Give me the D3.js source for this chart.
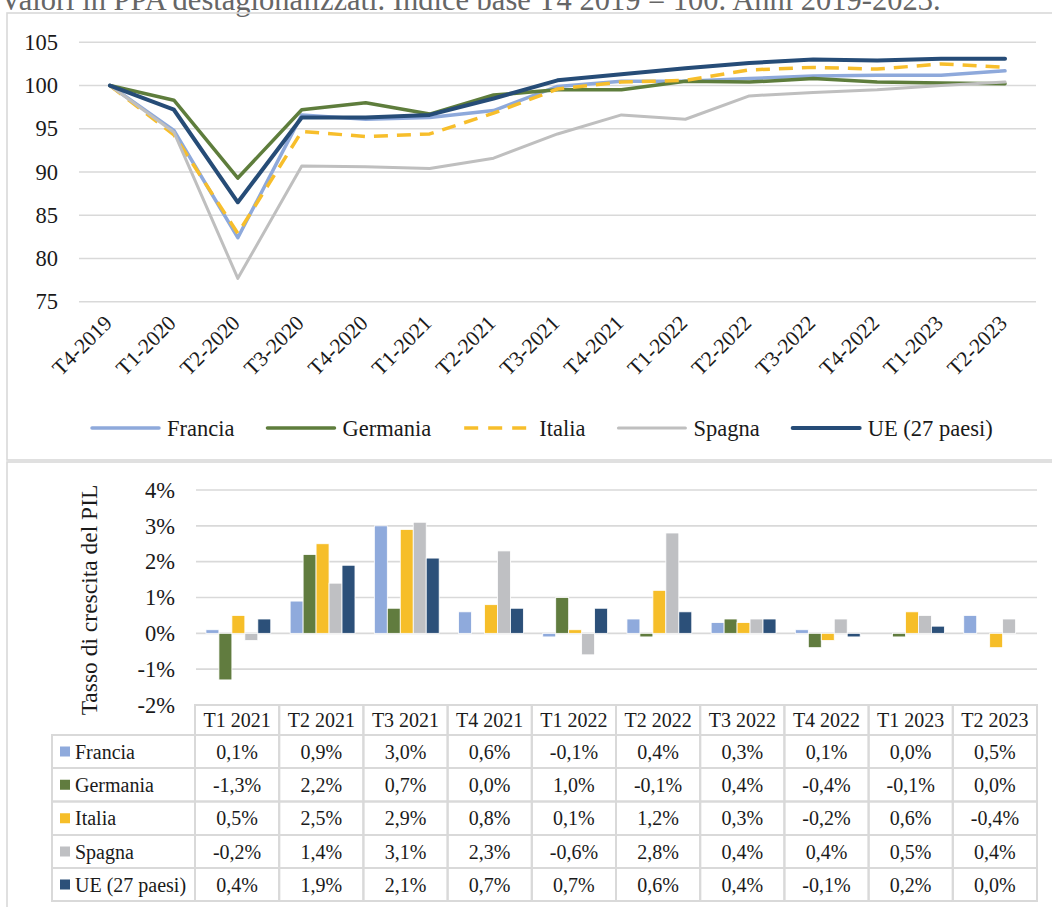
<!DOCTYPE html>
<html><head><meta charset="utf-8">
<script src="https://cdn.jsdelivr.net/npm/d3@7"></script>
<style>
html,body{margin:0;padding:0;background:#fff;overflow:hidden}
svg{display:block;font-family:"Liberation Serif","Times New Roman",serif}
</style></head>
<body>
<svg id="c" width="1052" height="907"></svg>
<script>
// ---------- data ----------
const titleText = "Valori in PPA destagionalizzati. Indice base T4 2019 = 100. Anni 2019-2023.";
const quarters = ["T4-2019","T1-2020","T2-2020","T3-2020","T4-2020","T1-2021","T2-2021","T3-2021","T4-2021","T1-2022","T2-2022","T3-2022","T4-2022","T1-2023","T2-2023"];
const seriesNames = ["Francia","Germania","Italia","Spagna","UE (27 paesi)"];
const francia  = [100, 94.8, 82.4, 96.6, 96.1, 96.3, 97.1, 99.9, 100.5, 100.5, 100.8, 101.1, 101.2, 101.2, 101.7];
const germania = [100, 98.3, 89.3, 97.2, 98.0, 96.7, 98.9, 99.5, 99.5, 100.5, 100.4, 100.8, 100.4, 100.3, 100.2];
const italia   = [100, 94.3, 82.9, 94.7, 94.1, 94.4, 96.8, 99.6, 100.4, 100.6, 101.8, 102.1, 101.9, 102.5, 102.1];
const spagna   = [100, 94.6, 77.7, 90.7, 90.6, 90.4, 91.6, 94.4, 96.6, 96.1, 98.8, 99.2, 99.5, 100.0, 100.4];
const ue       = [100, 97.2, 86.5, 96.3, 96.3, 96.6, 98.5, 100.6, 101.3, 102.0, 102.6, 103.0, 102.9, 103.1, 103.1];
const indexTicks = [75, 80, 85, 90, 95, 100, 105];

const growthQuarters = ["T1 2021","T2 2021","T3 2021","T4 2021","T1 2022","T2 2022","T3 2022","T4 2022","T1 2023","T2 2023"];
const franciaG  = [0.1, 0.9, 3.0, 0.6, -0.1, 0.4, 0.3, 0.1, 0.0, 0.5];
const germaniaG = [-1.3, 2.2, 0.7, 0.0, 1.0, -0.1, 0.4, -0.4, -0.1, 0.0];
const italiaG   = [0.5, 2.5, 2.9, 0.8, 0.1, 1.2, 0.3, -0.2, 0.6, -0.4];
const spagnaG   = [-0.2, 1.4, 3.1, 2.3, -0.6, 2.8, 0.4, 0.4, 0.5, 0.4];
const ueG       = [0.4, 1.9, 2.1, 0.7, 0.7, 0.6, 0.4, -0.1, 0.2, 0.0];
const growthTicks = [-2, -1, 0, 1, 2, 3, 4];
const growthAxisTitle = "Tasso di crescita del PIL";

// ---------- styles ----------
const lineColors = ["#8EA9DB", "#5E7D3C", "#F7BE2B", "#BFBFBF", "#264C77"];
const lineWidths = [3.5, 3.5, 3.5, 3, 4];
const barColors  = ["#8FAADC", "#617C3F", "#F6BE29", "#BFC0C3", "#2C5079"];
const gridColor = "#D9D9D9";
const textColor = "#1a1a1a";
const FONT = "22.5px";

const svg = d3.select("#c");

// title (partially cut off at top, as in the source)
svg.append("text").attr("x", 0).attr("y", 10)
  .attr("font-size", 30.5).attr("fill", "#666666").text(titleText);

// panel borders
svg.append("rect").attr("x", 7).attr("y", 13).attr("width", 1070).attr("height", 447)
  .attr("fill", "none").attr("stroke", gridColor).attr("stroke-width", 1.6);
svg.append("rect").attr("x", 7).attr("y", 462).attr("width", 1070).attr("height", 480)
  .attr("fill", "none").attr("stroke", gridColor).attr("stroke-width", 1.6);

// ================= TOP LINE CHART =================
const x1 = d3.scaleBand().domain(quarters).range([78, 1037]);
const y1 = d3.scaleLinear().domain([75, 105]).range([301.7, 42.3]);

const gTop = svg.append("g");
gTop.selectAll("line.grid").data(indexTicks).join("line")
  .attr("x1", 79).attr("x2", 1036)
  .attr("y1", d => y1(d)).attr("y2", d => y1(d))
  .attr("stroke", gridColor).attr("stroke-width", 1.6);

const yAx1 = d3.axisLeft(y1).tickValues(indexTicks).tickSize(0).tickPadding(0);
gTop.append("g").attr("transform", "translate(58,0)").call(yAx1)
  .call(g => g.select(".domain").remove())
  .selectAll("text").attr("font-size", FONT).attr("font-family", "Liberation Serif")
  .attr("fill", textColor);

// x labels rotated
const xAx1 = d3.axisBottom(x1).tickSize(0).tickPadding(0);
const gx1 = gTop.append("g").call(xAx1);
gx1.select(".domain").remove();
gx1.selectAll(".tick").attr("transform", d => `translate(${x1(d) + x1.bandwidth()/2 - 2},${319})`);
gx1.selectAll("text").attr("font-size", "21.5px").attr("font-family", "Liberation Serif")
  .attr("fill", textColor).attr("text-anchor", "end").attr("dy", "0.35em").attr("y", 0)
  .attr("transform", "rotate(-45)");

const lineData = [francia, germania, italia, spagna, ue];
const lineGen = d3.line().x((d, i) => x1(quarters[i]) + x1.bandwidth()/2).y(d => y1(d));
gTop.selectAll("path.series").data(lineData).join("path")
  .attr("class", "series")
  .attr("d", d => lineGen(d))
  .attr("fill", "none")
  .attr("stroke", (d, i) => lineColors[i])
  .attr("stroke-width", (d, i) => lineWidths[i])
  .attr("stroke-linejoin", "round")
  .attr("stroke-linecap", (d, i) => i === 2 ? "butt" : "round")
  .attr("stroke-dasharray", (d, i) => i === 2 ? "14,9" : null);

// legend
const legY = 428;
let lx = 92;
seriesNames.forEach((name, i) => {
  const g = svg.append("g");
  g.append("line").attr("x1", lx).attr("x2", lx + 67).attr("y1", legY).attr("y2", legY)
    .attr("stroke", lineColors[i]).attr("stroke-width", lineWidths[i])
    .attr("stroke-linecap", i === 2 ? "butt" : "round")
    .attr("stroke-dasharray", i === 2 ? "14,10" : null);
  const t = g.append("text").attr("x", lx + 75).attr("y", legY).attr("dy", "0.35em")
    .attr("font-size", FONT).attr("fill", textColor).text(name);
  const w = t.node().getComputedTextLength();
  lx = lx + 75 + w + 33;
});

// ================= BOTTOM BAR CHART =================
const x2 = d3.scaleBand().domain(growthQuarters).range([195, 1037]);
const y2 = d3.scaleLinear().domain([-2, 4]).range([705, 490]);
const gBot = svg.append("g");

gBot.selectAll("line.grid").data(growthTicks.filter(d => d > -2)).join("line")
  .attr("x1", 196).attr("x2", 1037)
  .attr("y1", d => y2(d)).attr("y2", d => y2(d))
  .attr("stroke", gridColor).attr("stroke-width", 1.6);

const yAx2 = d3.axisLeft(y2).tickValues(growthTicks).tickSize(0).tickPadding(0)
  .tickFormat(d => d + "%");
gBot.append("g").attr("transform", "translate(175,0)").call(yAx2)
  .call(g => g.select(".domain").remove())
  .selectAll("text").attr("font-size", FONT).attr("font-family", "Liberation Serif")
  .attr("fill", textColor);

svg.append("text").attr("transform", "translate(97,600) rotate(-90)")
  .attr("text-anchor", "middle").attr("font-size", "23.5px").attr("fill", textColor)
  .text(growthAxisTitle);

const growthData = [franciaG, germaniaG, italiaG, spagnaG, ueG];
const bw = x2.bandwidth();
const xs = d3.scaleBand().domain(seriesNames).range([bw * 0.13, bw * 0.9]);
growthData.forEach((vals, si) => {
  gBot.selectAll(null).data(vals).join("rect")
    .attr("x", (d, i) => x2(growthQuarters[i]) + xs(seriesNames[si]))
    .attr("width", xs.bandwidth())
    .attr("y", d => y2(Math.max(0, d)))
    .attr("height", d => Math.abs(y2(d) - y2(0)))
    .attr("fill", barColors[si])
    .attr("stroke", "#ffffff").attr("stroke-width", 0.8);
});

// ---------- data table ----------
const tbl = svg.append("g");
const headTop = 705, headBot = 735;
const rowY = [735, 768, 801.5, 835, 868, 901];
const labelLeft = 52;
const fmt = v => (v.toFixed(1).replace(".", ",")) + "%";
const bCol = gridColor;

growthQuarters.forEach(q => {
  tbl.append("rect").attr("x", x2(q)).attr("y", headTop).attr("width", bw).attr("height", headBot - headTop)
    .attr("fill", "none").attr("stroke", bCol).attr("stroke-width", 2);
  tbl.append("text").attr("x", x2(q) + bw/2).attr("y", (headTop + headBot)/2).attr("dy", "0.35em")
    .attr("text-anchor", "middle").attr("font-size", "20px").attr("fill", textColor).text(q);
});
seriesNames.forEach((name, si) => {
  const top = rowY[si], bot = rowY[si + 1], mid = (top + bot)/2;
  tbl.append("rect").attr("x", labelLeft).attr("y", top).attr("width", 195 - labelLeft).attr("height", bot - top)
    .attr("fill", "none").attr("stroke", bCol).attr("stroke-width", 2);
  tbl.append("rect").attr("x", 60).attr("y", mid - 5).attr("width", 10).attr("height", 10)
    .attr("fill", barColors[si]);
  tbl.append("text").attr("x", 75).attr("y", mid).attr("dy", "0.35em")
    .attr("font-size", "20px").attr("fill", textColor).text(name);
  growthData[si].forEach((v, i) => {
    const q = growthQuarters[i];
    tbl.append("rect").attr("x", x2(q)).attr("y", top).attr("width", bw).attr("height", bot - top)
      .attr("fill", "none").attr("stroke", bCol).attr("stroke-width", 2);
    tbl.append("text").attr("x", x2(q) + bw/2).attr("y", mid).attr("dy", "0.35em")
      .attr("text-anchor", "middle").attr("font-size", "20px").attr("fill", textColor).text(fmt(v));
  });
});
</script>
</body></html>
